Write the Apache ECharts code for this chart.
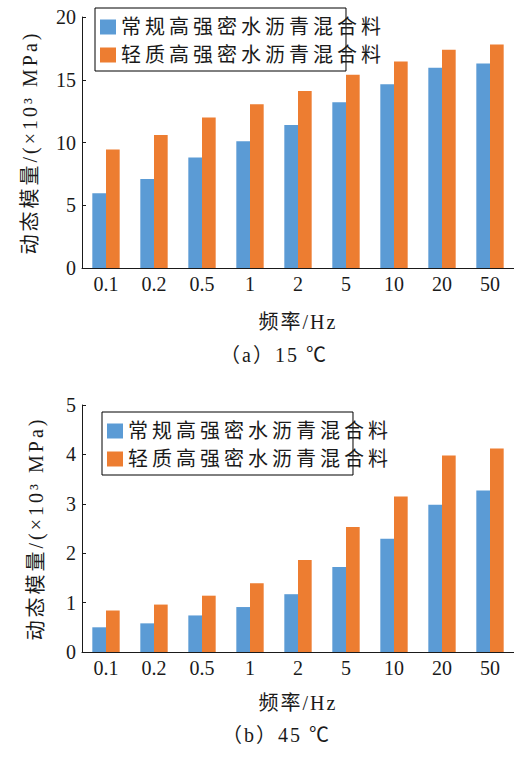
<!DOCTYPE html>
<html>
<head>
<meta charset="utf-8">
<script src="https://cdn.jsdelivr.net/npm/echarts@6.0.0/dist/echarts.min.js"></script>
<style>
  html, body { margin: 0; padding: 0; background: #fff; }
  #chart { width: 514px; height: 763px; }
  #chart text { font-family: "Liberation Serif", "Noto Sans CJK SC", serif !important; }
  #chart text[style*="spc4"] { letter-spacing: 4px; }
  #chart text[style*="spc3"] { letter-spacing: 3px; }
  #chart text[style*="spc2"] { letter-spacing: 2px; }
</style>
</head>
<body>
<div id="chart"></div>
<script>
// ---- data ----
const categories = ['0.1', '0.2', '0.5', '1', '2', '5', '10', '20', '50'];
const seriesNames = ['常规高强密水沥青混合料', '轻质高强密水沥青混合料'];
// (a) 15 ℃, ×10³ MPa
const normal15 = [5.95, 7.1, 8.8, 10.1, 11.4, 13.2, 14.65, 15.95, 16.3];
const light15  = [9.45, 10.6, 12.0, 13.05, 14.1, 15.4, 16.45, 17.4, 17.8];
// (b) 45 ℃, ×10³ MPa
const normal45 = [0.50, 0.58, 0.74, 0.91, 1.17, 1.72, 2.29, 2.98, 3.27];
const light45  = [0.84, 0.96, 1.14, 1.39, 1.86, 2.53, 3.15, 3.98, 4.12];
const yTicks15 = [0, 5, 10, 15, 20];
const yTicks45 = [0, 1, 2, 3, 4, 5];
const yName = '动态模量/(×10³ MPa)';
const xName = '频率/Hz';
const captions = ['（a）15 ℃', '（b）45 ℃'];

// ---- styles ----
const BLUE = '#5b9bd5';
const ORANGE = '#ed7d31';
const INK = '#1a1a1a';
const SERIF = 'Liberation Serif, Noto Sans CJK SC, serif';
const SERIF4 = 'Liberation Serif, Noto Sans CJK SC, spc4';
const SERIF3 = 'Liberation Serif, Noto Sans CJK SC, spc3';
const SERIF2 = 'Liberation Serif, Noto Sans CJK SC, spc2';

function xAxisCfg(gridIndex, nameGap) {
  return {
    type: 'category', gridIndex: gridIndex, data: categories,
    axisLine: { lineStyle: { color: INK, width: 1 } },
    axisTick: { inside: true, length: 4, lineStyle: { color: INK } },
    axisLabel: { fontFamily: SERIF, fontSize: 20, color: INK, margin: 6 },
    name: xName, nameLocation: 'middle', nameGap: nameGap,
    nameTextStyle: { fontFamily: SERIF2, fontSize: 20, color: INK },
    splitLine: { show: false }
  };
}
function yAxisCfg(gridIndex, ticks, nameGap) {
  return {
    type: 'value', gridIndex: gridIndex,
    min: ticks[0], max: ticks[ticks.length - 1], interval: ticks[1] - ticks[0],
    axisLine: { show: true, lineStyle: { color: INK, width: 1 } },
    axisTick: { show: true, inside: true, length: 4, lineStyle: { color: INK } },
    axisLabel: { fontFamily: SERIF, fontSize: 20, color: INK, margin: 6 },
    splitLine: { show: false },
    name: yName, nameLocation: 'middle', nameRotate: 90, nameGap: nameGap,
    nameTextStyle: { fontFamily: SERIF3, fontSize: 20, color: INK }
  };
}
function barSeries(name, data, idx, color) {
  return {
    type: 'bar', name: name, data: data,
    xAxisIndex: idx, yAxisIndex: idx,
    barGap: '0%', barCategoryGap: '43%',
    itemStyle: { color: color },
    emphasis: { disabled: true },
    animation: false
  };
}
function legendCfg(left, top) {
  return {
    orient: 'vertical', left: left, top: top,
    data: seriesNames,
    itemWidth: 16, itemHeight: 15, itemGap: 8,
    icon: 'rect',
    padding: [9, 5, 6, 5],
    borderColor: '#000', borderWidth: 1,
    backgroundColor: '#fff',
    selectedMode: false,
    textStyle: { fontFamily: SERIF4, fontSize: 20, color: INK, width: 262 }
  };
}

const chart = echarts.init(document.getElementById('chart'), null, { renderer: 'svg', width: 514, height: 763 });
chart.setOption({
  animation: false,
  backgroundColor: '#fff',
  grid: [
    { left: 82, right: 0, top: 17, bottom: 763 - 268, outerBoundsMode: 'none', containLabel: false },
    { left: 82, right: 0, top: 405, bottom: 763 - 652, outerBoundsMode: 'none', containLabel: false }
  ],
  xAxis: [xAxisCfg(0, 44), xAxisCfg(1, 41)],
  yAxis: [yAxisCfg(0, yTicks15, 42), yAxisCfg(1, yTicks45, 36)],
  legend: [legendCfg(95, 8), legendCfg(102, 412)],
  series: [
    barSeries(seriesNames[0], normal15, 0, BLUE),
    barSeries(seriesNames[1], light15, 0, ORANGE),
    barSeries(seriesNames[0], normal45, 1, BLUE),
    barSeries(seriesNames[1], light45, 1, ORANGE)
  ],
  graphic: [
    { type: 'text', left: 220, top: 345, style: { text: captions[0], fontFamily: SERIF2, fontSize: 20, fill: INK } },
    { type: 'text', left: 222, top: 725, style: { text: captions[1], fontFamily: SERIF2, fontSize: 20, fill: INK } }
  ]
});
</script>
</body>
</html>
